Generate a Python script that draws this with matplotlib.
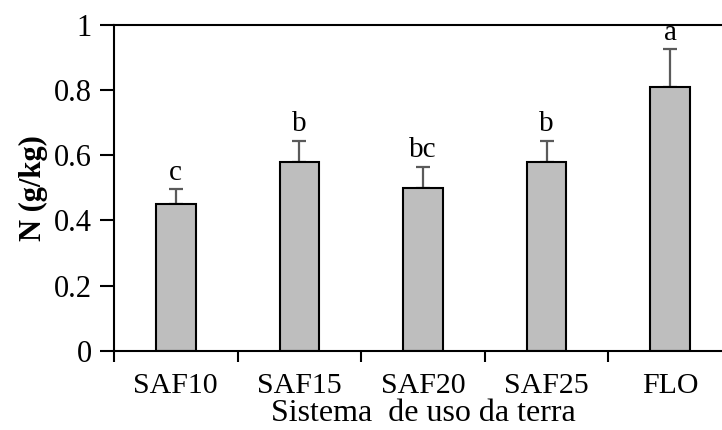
import numpy as np
import matplotlib.pyplot as plt
from matplotlib.ticker import FixedLocator, NullFormatter

categories = ["SAF10", "SAF15", "SAF20", "SAF25", "FLO"]
n_values = [0.45, 0.58, 0.50, 0.58, 0.81]
n_errors = [0.045, 0.065, 0.065, 0.065, 0.115]
letters = ["c", "b", "bc", "b", "a"]
y_ticks = [0, 0.2, 0.4, 0.6, 0.8, 1]
y_tick_labels = ["0", "0.2", "0.4", "0.6", "0.8", "1"]

plt.rcParams["font.family"] = ["Liberation Serif", "DejaVu Serif"]

fig = plt.figure(figsize=(7.22, 4.30), dpi=100)
ax = fig.add_axes([114 / 722, 1 - 350.7 / 430, 618 / 722, 325.7 / 430])

x = np.arange(len(categories))
ax.bar(x, n_values, width=0.32, color="#bebebe", edgecolor="black",
       linewidth=1.5, zorder=2)
ax.errorbar(x, n_values, yerr=[np.zeros(len(n_errors)), n_errors],
            fmt="none", ecolor="#5a5a5a", elinewidth=1.6, capsize=5,
            capthick=1.6, zorder=1)

for xi, v, e, lab in zip(x, n_values, n_errors, letters):
    ax.text(xi, v + e + 0.012, lab, ha="center", va="bottom", fontsize=21)

ax.set_xlim(-0.5, 4.5)
ax.set_ylim(0, 1)
ax.set_yticks(y_ticks)
ax.set_yticklabels(y_tick_labels, fontsize=22)

# ticks on the category borders, labels in the middle
ax.xaxis.set_major_locator(FixedLocator(np.arange(-0.5, 5, 1)))
ax.xaxis.set_major_formatter(NullFormatter())
ax.xaxis.set_minor_locator(FixedLocator(x))
ax.set_xticklabels(categories, minor=True, fontsize=21.5)
ax.tick_params(axis="x", which="major", direction="out", length=8, width=1.5)
ax.tick_params(axis="x", which="minor", length=0, pad=16)
ax.tick_params(axis="y", direction="out", length=10, width=1.5, pad=6)

for s in ["left", "bottom", "top"]:
    ax.spines[s].set_linewidth(1.5)
ax.spines["right"].set_visible(False)

ax.set_xlabel("Sistema  de uso da terra", fontsize=23, labelpad=0)
ax.set_ylabel("N (g/kg)", fontsize=22, fontweight="bold", labelpad=4)

fig.savefig("out.png", dpi=100)
